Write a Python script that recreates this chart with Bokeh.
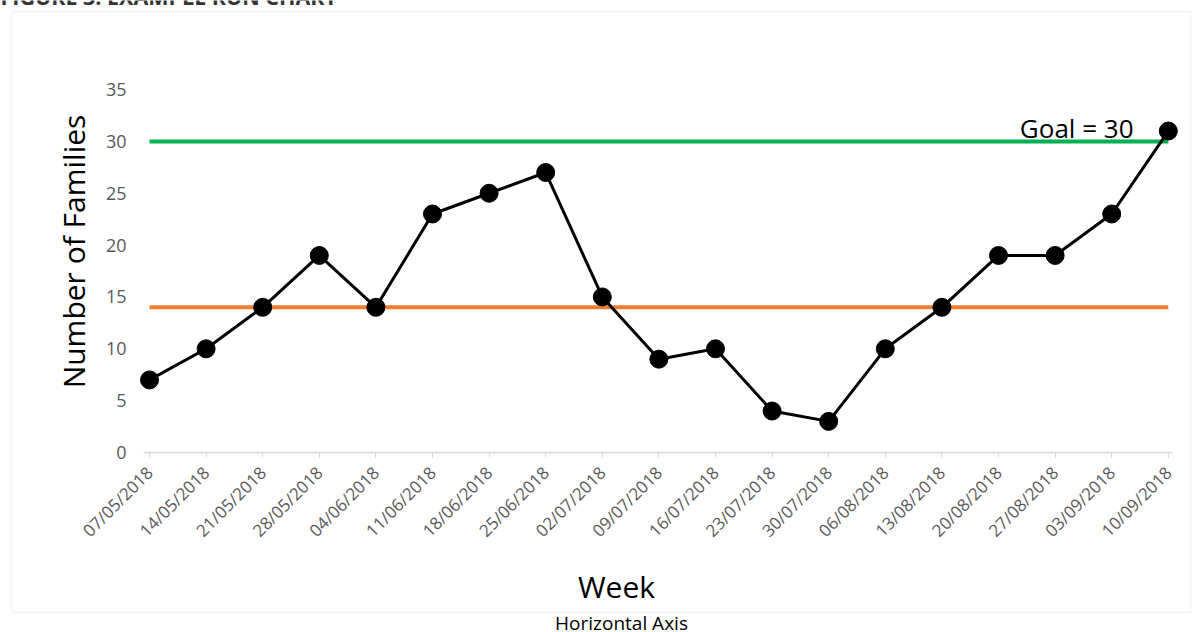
import numpy as np
from bokeh.plotting import figure
from bokeh.models import (ColumnDataSource, FixedTicker, Label, BoxAnnotation, Range1d)
from bokeh.embed import file_html
from bokeh.resources import INLINE

# ---------------- data ----------------
weeks = ["07/05/2018", "14/05/2018", "21/05/2018", "28/05/2018", "04/06/2018",
         "11/06/2018", "18/06/2018", "25/06/2018", "02/07/2018", "09/07/2018",
         "16/07/2018", "23/07/2018", "30/07/2018", "06/08/2018", "13/08/2018",
         "20/08/2018", "27/08/2018", "03/09/2018", "10/09/2018"]
families = [7, 10, 14, 19, 14, 23, 25, 27, 15, 9, 10, 4, 3, 10, 14, 19, 19, 23, 31]
goal = 30
median = float(np.median(families))  # 14
y_ticks = [0, 5, 10, 15, 20, 25, 30, 35]

title_text = "FIGURE 3: EXAMPLE RUN CHART"
x_title = "Week"
y_title = "Number of Families"
caption = "Horizontal Axis"
goal_label = "Goal = 30"

FONT = "Open Sans"
GRAY = "#595959"

# ---------------- layout (canvas pixels) ----------------
W, H = 1192, 632
X0_PX, UX = 149.0, 56.6      # pixel of first week, pixels per week
Y0_PX, UY = 452.0, 10.37     # pixel of value 0, pixels per unit


def px_x(px):
    return (px - X0_PX) / UX


def px_y(py):
    return (Y0_PX - py) / UY


x = list(range(len(weeks)))
src = ColumnDataSource(dict(x=x, y=families, week=weeks))

p = figure(width=W, height=H, output_backend="svg", toolbar_location=None,
           title=None,
           x_range=Range1d(px_x(0), px_x(W)), y_range=Range1d(px_y(H), px_y(0)),
           min_border_left=0, min_border_right=0, min_border_top=0,
           min_border_bottom=0)
p.outline_line_color = None
p.xgrid.visible = False
p.ygrid.visible = False
p.background_fill_color = "white"
p.border_fill_color = "white"

# chart border
p.add_layout(BoxAnnotation(left=px_x(11), right=px_x(1190), top=px_y(11),
                           bottom=px_y(612), fill_color=None,
                           line_color="#d9d9d9", line_width=2))

# reference lines (goal & median)
p.line(x=[x[0], x[-1]], y=[goal, goal], line_color="#00b050", line_width=4)
p.line(x=[x[0], x[-1]], y=[median, median], line_color="#ed7d31", line_width=4)

# run chart
p.line("x", "y", source=src, line_color="black", line_width=3)
p.scatter("x", "y", source=src, marker="circle", size=18, fill_color="black",
          line_color="black")

# axes (fixed inside the canvas)
xa = p.xaxis[0]
xa.fixed_location = 0
xa.ticker = FixedTicker(ticks=x)
xa.major_label_overrides = {i: w for i, w in zip(x, weeks)}
xa.major_label_orientation = np.pi / 4
xa.major_label_text_font = FONT
xa.major_label_text_font_size = "17px"
xa.major_label_text_color = GRAY
xa.major_label_standoff = 12
xa.axis_line_color = "#d9d9d9"
xa.axis_line_width = 1.5
xa.major_tick_line_color = "#d9d9d9"
xa.major_tick_out = 5
xa.major_tick_in = 0
xa.minor_tick_line_color = None
xa.bounds = (px_x(143), px_x(1172))

ya = p.yaxis[0]
ya.fixed_location = px_x(138)
ya.ticker = FixedTicker(ticks=y_ticks)
ya.major_label_text_font = FONT
ya.major_label_text_font_size = "18px"
ya.major_label_text_color = GRAY
ya.major_label_standoff = 6
ya.axis_line_color = None
ya.major_tick_line_color = None
ya.minor_tick_line_color = None

# axis titles
p.add_layout(Label(x=px_x(73), y=px_y(251), text=y_title, angle=np.pi / 2,
                   text_align="center", text_baseline="middle",
                   text_font=FONT, text_font_size="30px", text_color="black"))
p.add_layout(Label(x=px_x(616), y=px_y(586), text=x_title,
                   text_align="center", text_baseline="alphabetic",
                   text_font=FONT, text_font_size="30px", text_color="black"))

# goal text
p.add_layout(Label(x=px_x(1133), y=goal, text=goal_label, text_align="right",
                   text_baseline="alphabetic", y_offset=13,
                   text_font=FONT, text_font_size="26px", text_color="black"))

# cut-off figure title and caption
p.add_layout(Label(x=px_x(0), y=px_y(-4), text=title_text,
                   text_align="left", text_baseline="alphabetic",
                   text_font=FONT, text_font_size="21.5px", text_font_style="bold",
                   text_color="#333333"))
p.add_layout(Label(x=px_x(621), y=px_y(622), text=caption,
                   text_align="center", text_baseline="alphabetic",
                   text_font=FONT, text_font_size="19px", text_color="black"))

open("out.html", "w").write(file_html(p, INLINE))
